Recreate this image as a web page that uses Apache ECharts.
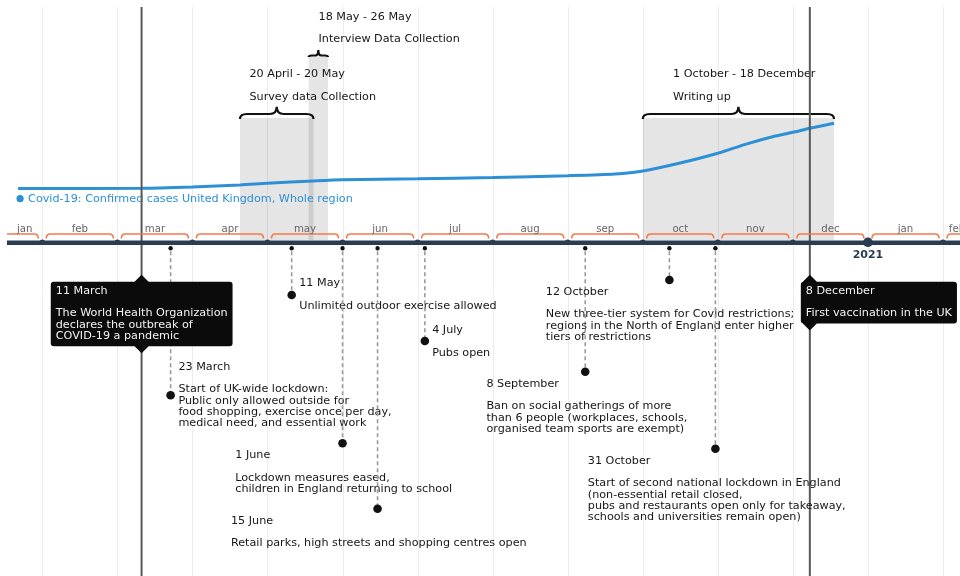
<!DOCTYPE html>
<html><head><meta charset="utf-8">
<script src="https://cdn.jsdelivr.net/npm/echarts@6/dist/echarts.min.js"></script>
<style>html,body{margin:0;padding:0;background:#fff;overflow:hidden;width:960px;height:576px}#c{width:971px;height:576px}</style>
</head><body><div id="c"></div>
<script>
// ---------------- DATA ----------------
const monthLabels = ['jan','feb','mar','apr','may','jun','jul','aug','sep','oct','nov','dec','jan','feb'];
const monthStarts = ['2020-01-01','2020-02-01','2020-03-01','2020-04-01','2020-05-01','2020-06-01','2020-07-01',
  '2020-08-01','2020-09-01','2020-10-01','2020-11-01','2020-12-01','2021-01-01','2021-02-01','2021-03-01'];
const yearLabels = ['2021'];
const yearDates = ['2021-01-01'];

const seriesName = 'Covid-19: Confirmed cases United Kingdom, Whole region';
const covidDates = ['2020-01-22','2020-03-11','2020-04-01','2020-04-20','2020-05-01','2020-05-20','2020-06-01',
  '2020-07-01','2020-08-01','2020-09-01','2020-09-20','2020-10-01','2020-10-16','2020-11-01','2020-11-12',
  '2020-11-24','2020-12-01','2020-12-08','2020-12-18'];
const covidCases = [0, 5000, 45000, 104000, 155000, 224000, 260000,
  290000, 328000, 382000, 433000, 522000, 752000, 1051000, 1319000,
  1567000, 1678000, 1797000, 1946000];

const periodStarts = ['2020-04-20','2020-05-18','2020-10-01'];
const periodEnds = ['2020-05-20','2020-05-26','2020-12-18'];
const periodRanges = ['20 April - 20 May','18 May - 26 May','1 October - 18 December'];
const periodNames = ['Survey data Collection','Interview Data Collection','Writing up'];

const flagDates = ['2020-03-11','2020-12-08'];
const flagTitles = ['11 March','8 December'];
const flagTexts = ['The World Health Organization\ndeclares the outbreak of\nCOVID-19 a pandemic','First vaccination in the UK'];

const eventDates = ['2020-03-23','2020-05-11','2020-06-01','2020-06-15','2020-07-04','2020-09-08','2020-10-12','2020-10-31'];
const eventTitles = ['23 March','11 May','1 June','15 June','4 July','8 September','12 October','31 October'];
const eventTexts = [
  'Start of UK-wide lockdown:\nPublic only allowed outside for\nfood shopping, exercise once per day,\nmedical need, and essential work',
  'Unlimited outdoor exercise allowed',
  'Lockdown measures eased,\nchildren in England returning to school',
  'Retail parks, high streets and shopping centres open',
  'Pubs open',
  'Ban on social gatherings of more\nthan 6 people (workplaces, schools,\norganised team sports are exempt)',
  'New three-tier system for Covid restrictions;\nregions in the North of England enter higher\ntiers of restrictions',
  'Start of second national lockdown in England\n(non-essential retail closed,\npubs and restaurants open only for takeaway,\nschools and universities remain open)'
];

// ---------------- LAYOUT (pixel rows / offsets, not data) ----------------
const X_MIN = 0.5297, X_MAX = 13.373;
const FONT = 'DejaVu Sans';
const FS = 11.2;
const LH = 11.3;
const PLOT_TOP = 7, PLOT_BOTTOM = 576;
const AXIS_Y = 242.8, BRACKET_Y = 234, MONTH_LABEL_Y = 229.4, YEAR_LABEL_Y = 255.5;
const BAND_BOTTOM = 240;
const periodLayout = {
  bandTop: [118, 56.5, 118], braceY: [114, 55.5, 114], hook: [5, 1.5, 5], peak: [7.3, 5.5, 7.3],
  radius: [7, 3, 7], labelDx: [9.5, 9.9, 30.3], titleY: [74, 16.7, 74]
};
const eventLayout = {
  dotY: [395.3, 295, 443.3, 508.7, 341, 371.7, 280, 448.7],
  labelDx: [7.8, 7.5, -107.3, -146.6, 7.3, -98.8, -123.6, -127.6],
  titleY: [366.7, 283.3, 455, 520.7, 330, 383.7, 291.7, 460.7]
};
const flagLayout = { boxTop: 281.7, boxDx: [-90.8, -9] };
const SERIES_LABEL_Y = 198.7;

// month-uniform time scale: value = months since 1 Jan 2020
function mv(d) {
  const [y, m, dd] = d.split('-').map(Number);
  const days = new Date(Date.UTC(y, m, 0)).getUTCDate();
  return (y - 2020) * 12 + (m - 1) + (dd - 1) / days;
}

const chart = echarts.init(document.getElementById('c'), null, {renderer: 'canvas'});
const NAVY = '#2a3c52';

function txt(x, y, text, extra) {
  return {type: 'text', style: Object.assign({x, y, text, fontSize: FS, fontFamily: FONT, fill: '#161616',
    align: 'left', verticalAlign: 'top', lineHeight: LH}, extra || {})};
}

const option = {
  animation: false,
  backgroundColor: '#ffffff',
  grid: [
    {left: 7, right: 0, top: 0, bottom: 0},
    {left: 7, right: 0, top: 121.5, bottom: 387.5}
  ],
  xAxis: [
    {type: 'value', gridIndex: 0, min: X_MIN, max: X_MAX, show: false},
    {type: 'value', gridIndex: 1, min: X_MIN, max: X_MAX, show: false}
  ],
  yAxis: [
    {type: 'value', gridIndex: 0, min: 0, max: 576, inverse: true, show: false},
    {type: 'value', gridIndex: 1, min: 0, max: 2000000, show: false}
  ],
  series: [
    // month grid lines
    {
      type: 'custom', xAxisIndex: 0, yAxisIndex: 0, z: 1, silent: true,
      data: monthStarts.map(d => [mv(d), 0]).filter(r => r[0] > X_MIN && r[0] < X_MAX),
      renderItem: (p, api) => {
        const a = api.coord([api.value(0), PLOT_TOP]), b = api.coord([api.value(0), PLOT_BOTTOM]);
        const x = Math.round(a[0]) + 0.5;
        return {type: 'line', shape: {x1: x, y1: a[1], x2: x, y2: b[1]}, style: {stroke: '#ececec', lineWidth: 1}};
      }
    },
    // period bands
    {
      type: 'custom', xAxisIndex: 0, yAxisIndex: 0, z: 2, silent: true,
      data: periodStarts.map((d, i) => [mv(d), mv(periodEnds[i])]),
      renderItem: (p, api) => {
        const i = p.dataIndex;
        const a = api.coord([api.value(0), periodLayout.bandTop[i]]), b = api.coord([api.value(1), BAND_BOTTOM]);
        return {type: 'rect', shape: {x: a[0], y: a[1], width: b[0] - a[0], height: b[1] - a[1]},
          style: {fill: 'rgba(0,0,0,0.1)'}};
      }
    },
    // braces + period labels
    {
      type: 'custom', xAxisIndex: 0, yAxisIndex: 0, z: 3, silent: true,
      data: periodStarts.map((d, i) => [mv(d), mv(periodEnds[i])]),
      renderItem: (p, api) => {
        const i = p.dataIndex, L = periodLayout;
        const x0 = api.coord([api.value(0), 0])[0], x1 = api.coord([api.value(1), 0])[0];
        const yh = api.coord([0, L.braceY[i]])[1], yb = yh + L.hook[i], yp = yh - L.peak[i], r = L.radius[i];
        const xm = (x0 + x1) / 2;
        const d = `M${x0} ${yb} Q${x0} ${yh} ${x0 + r} ${yh} L${xm - r} ${yh} Q${xm} ${yh} ${xm} ${yp} ` +
          `Q${xm} ${yh} ${xm + r} ${yh} L${x1 - r} ${yh} Q${x1} ${yh} ${x1} ${yb}`;
        const ty = api.coord([0, L.titleY[i]])[1] - LH / 2;
        return {type: 'group', children: [
          {type: 'path', shape: {pathData: d}, style: {stroke: '#111', lineWidth: 2.2, fill: null}},
          txt(x0 + L.labelDx[i], ty, periodRanges[i] + '\n\n' + periodNames[i], {lineHeight: 11.35})
        ]};
      }
    },
    // covid line
    {
      type: 'line', name: seriesName, xAxisIndex: 1, yAxisIndex: 1, z: 4,
      data: covidDates.map((d, i) => [mv(d), covidCases[i]]),
      showSymbol: false, smooth: 0.25,
      lineStyle: {width: 3, color: '#2d8fd6'}, itemStyle: {color: '#2d8fd6'}
    },
    // series label
    {
      type: 'custom', xAxisIndex: 0, yAxisIndex: 0, z: 4, silent: true,
      data: [[mv(covidDates[0]), SERIES_LABEL_Y]],
      renderItem: (p, api) => {
        const c = api.coord([api.value(0), api.value(1)]);
        return {type: 'group', children: [
          {type: 'circle', shape: {cx: c[0] + 2, cy: c[1], r: 3.6}, style: {fill: '#2d8fd6'}},
          txt(c[0] + 10, c[1], seriesName, {fill: '#2d8fd6', verticalAlign: 'middle'})
        ]};
      }
    },
    // flag vertical lines
    {
      type: 'custom', xAxisIndex: 0, yAxisIndex: 0, z: 5, silent: true,
      data: flagDates.map(d => [mv(d), 0]),
      renderItem: (p, api) => {
        const a = api.coord([api.value(0), PLOT_TOP]), b = api.coord([api.value(0), PLOT_BOTTOM]);
        return {type: 'line', shape: {x1: a[0], y1: a[1], x2: a[0], y2: b[1]}, style: {stroke: '#585858', lineWidth: 2}};
      }
    },
    // axis line
    {
      type: 'custom', xAxisIndex: 0, yAxisIndex: 0, z: 6, silent: true,
      data: [[X_MIN, X_MAX]],
      renderItem: (p, api) => {
        const a = api.coord([api.value(0), AXIS_Y]), b = api.coord([api.value(1), AXIS_Y]);
        return {type: 'line', shape: {x1: a[0], y1: a[1], x2: b[0], y2: b[1]}, style: {stroke: NAVY, lineWidth: 4.5}};
      }
    },
    // month brackets, labels, dots
    {
      type: 'custom', xAxisIndex: 0, yAxisIndex: 0, z: 7, silent: true,
      data: monthLabels.map((m, i) => [mv(monthStarts[i]), mv(monthStarts[i + 1])]),
      renderItem: (p, api) => {
        const i = p.dataIndex;
        const s = api.value(0), e = api.value(1);
        const sClip = s <= X_MIN, eClip = e >= X_MAX;
        const ps = api.coord([Math.max(s, X_MIN), BRACKET_Y]), pe = api.coord([Math.min(e, X_MAX), BRACKET_Y]);
        const yb = ps[1], yd = yb + 4.5;
        const xs = sClip ? ps[0] : ps[0] + 4, xe = eClip ? pe[0] : pe[0] - 4;
        let d = sClip ? `M${xs} ${yb}` : `M${xs} ${yd} Q${xs} ${yb} ${xs + 4} ${yb}`;
        d += ` L${eClip ? xe : xe - 4} ${yb}`;
        if (!eClip) d += ` Q${xe} ${yb} ${xe} ${yd}`;
        const ly = api.coord([0, MONTH_LABEL_Y])[1];
        const children = [
          {type: 'path', shape: {pathData: d}, style: {stroke: '#f47a4e', lineWidth: 1.6, fill: null}},
          {type: 'text', style: {x: (ps[0] + pe[0]) / 2, y: ly, text: monthLabels[i], fontSize: 10.2, fontFamily: FONT,
            fill: '#666', align: 'center', verticalAlign: 'middle'}}
        ];
        if (!sClip) {
          const c = api.coord([s, AXIS_Y - 0.5]);
          const isYear = yearDates.some(y => mv(y) === s);
          children.push({type: 'circle', shape: {cx: c[0], cy: c[1], r: isYear ? 4.8 : 2.8}, style: {fill: NAVY}});
        }
        return {type: 'group', children};
      }
    },
    // year label
    {
      type: 'custom', xAxisIndex: 0, yAxisIndex: 0, z: 7, silent: true,
      data: yearDates.map(d => [mv(d), YEAR_LABEL_Y]),
      renderItem: (p, api) => {
        const c = api.coord([api.value(0), api.value(1)]);
        return {type: 'text', style: {x: c[0], y: c[1], text: yearLabels[p.dataIndex], fontSize: 11, fontWeight: 'bold',
          fontFamily: FONT, fill: NAVY, align: 'center', verticalAlign: 'middle'}};
      }
    },
    // events
    {
      type: 'custom', xAxisIndex: 0, yAxisIndex: 0, z: 8, silent: true,
      data: eventDates.map(d => [mv(d), 0]),
      renderItem: (p, api) => {
        const i = p.dataIndex, L = eventLayout;
        const top = api.coord([api.value(0), 248.3]);
        const dot = api.coord([api.value(0), L.dotY[i]]);
        const ty = api.coord([0, L.titleY[i]])[1] - LH / 2;
        return {type: 'group', children: [
          {type: 'line', shape: {x1: top[0], y1: top[1] + 3, x2: dot[0], y2: dot[1]},
            style: {stroke: '#9b9b9b', lineWidth: 1.6, lineDash: [4, 3]}},
          {type: 'circle', shape: {cx: top[0], cy: top[1], r: 2.2}, style: {fill: '#111'}},
          {type: 'circle', shape: {cx: dot[0], cy: dot[1], r: 4.3}, style: {fill: '#111'}},
          txt(top[0] + L.labelDx[i], ty, eventTitles[i] + '\n\n' + eventTexts[i])
        ]};
      }
    },
    // flags (black boxes)
    {
      type: 'custom', xAxisIndex: 0, yAxisIndex: 0, z: 9, silent: true,
      data: flagDates.map(d => [mv(d), flagLayout.boxTop]),
      renderItem: (p, api) => {
        const i = p.dataIndex;
        const c = api.coord([api.value(0), api.value(1)]);
        const content = flagTitles[i] + '\n\n' + flagTexts[i];
        const n = content.split('\n').length;
        const pad = [3.5, 5, 4.5, 5];
        const bottom = c[1] + pad[0] + n * LH + pad[2];
        const dia = (cx, cy) => ({type: 'polygon', shape: {points: [[cx, cy - 7], [cx + 7, cy], [cx, cy + 7], [cx - 7, cy]]},
          style: {fill: '#0b0b0b'}});
        return {type: 'group', children: [
          dia(c[0], c[1]), dia(c[0], bottom),
          txt(c[0] + flagLayout.boxDx[i], c[1], content, {fill: '#f2f2f2', backgroundColor: '#0b0b0b',
            padding: pad, borderRadius: 3})
        ]};
      }
    }
  ]
};
chart.setOption(option);
</script>
</body></html>
